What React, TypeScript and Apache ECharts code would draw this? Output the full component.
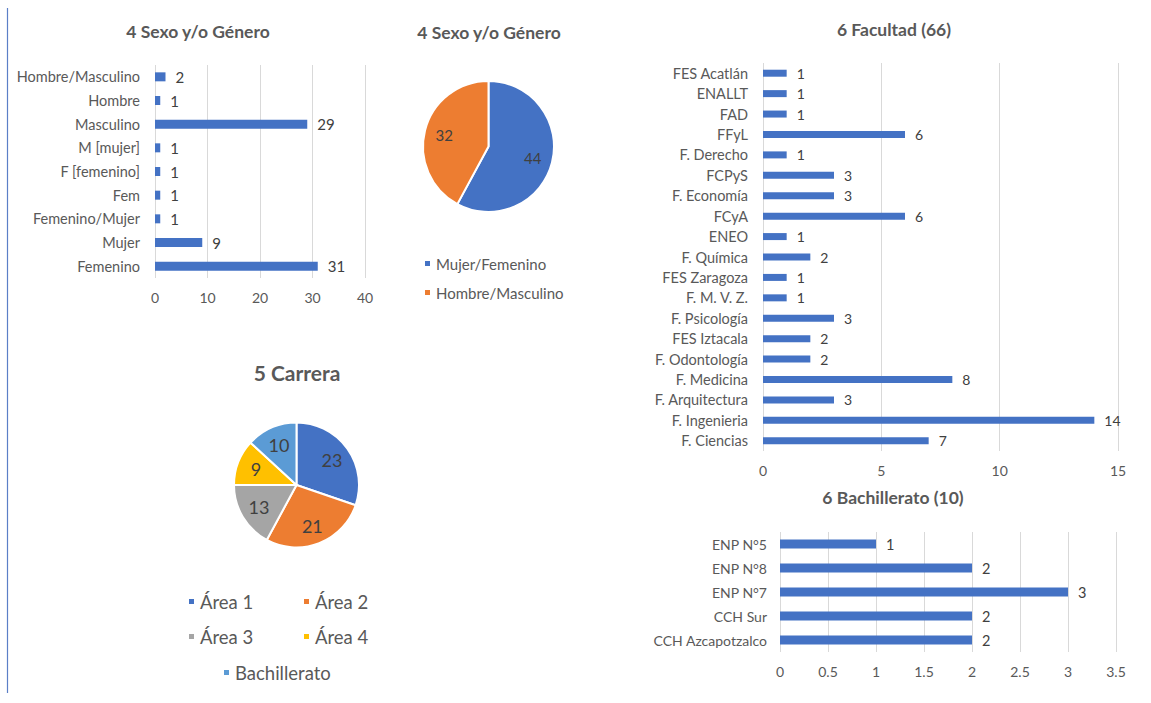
import React, { useEffect, useRef } from "react";
import * as echarts from "echarts";

const sexoCats = ["Hombre/Masculino", "Hombre", "Masculino", "M [mujer]", "F [femenino]", "Fem", "Femenino/Mujer", "Mujer", "Femenino"];
const sexoVals = [2, 1, 29, 1, 1, 1, 1, 9, 31];

const generoNames = ["Mujer/Femenino", "Hombre/Masculino"];
const generoVals = [44, 32];
const generoColors = ["#4472C4", "#ED7D31"];

const carreraNames = ["Área 1", "Área 2", "Área 3", "Área 4", "Bachillerato"];
const carreraVals = [23, 21, 13, 9, 10];
const carreraColors = ["#4472C4", "#ED7D31", "#A5A5A5", "#FFC000", "#5B9BD5"];

const facultadCats = ["FES Acatlán", "ENALLT", "FAD", "FFyL", "F. Derecho", "FCPyS", "F. Economía", "FCyA", "ENEO", "F. Química", "FES Zaragoza", "F. M. V. Z.", "F. Psicología", "FES Iztacala", "F. Odontología", "F. Medicina", "F. Arquitectura", "F. Ingenieria", "F. Ciencias"];
const facultadVals = [1, 1, 1, 6, 1, 3, 3, 6, 1, 2, 1, 1, 3, 2, 2, 8, 3, 14, 7];

const bachCats = ["ENP N°5", "ENP N°8", "ENP N°7", "CCH Sur", "CCH Azcapotzalco"];
const bachVals = [1, 2, 3, 2, 2];

const FONT = "Lato, 'Open Sans', sans-serif";
const TXT = "#595959";
const GRID = "#D9D9D9";
const BAR = "#4472C4";

export default function App() {
  const ref = useRef<HTMLDivElement>(null);
  useEffect(() => {
    const chart = echarts.init(ref.current!, null, { renderer: "svg" });

    const title = (text: string, x: number, y: number, size: number) => ({
      text,
      left: x,
      top: y,
      padding: 0,
      textAlign: "center",
      textVerticalAlign: "middle",
      textStyle: { color: TXT, fontFamily: FONT, fontWeight: "bold", fontSize: size },
    });

    const xAx = (gi: number, max: number, interval: number, size: number) => ({
      type: "value",
      gridIndex: gi,
      min: 0,
      max,
      interval,
      axisLine: { show: false },
      axisTick: { show: false },
      splitLine: { show: true, lineStyle: { color: GRID, width: 1 } },
      axisLabel: { color: TXT, fontFamily: FONT, fontSize: size, margin: 12 },
    });
    const yAx = (gi: number, cats: string[], size: number, margin: number) => ({
      type: "category",
      gridIndex: gi,
      data: cats,
      inverse: true,
      axisLine: { show: false },
      axisTick: { show: false },
      axisLabel: { color: TXT, fontFamily: FONT, fontSize: size, margin },
    });
    const bar = (gi: number, vals: number[], w: number, size: number) => ({
      type: "bar",
      xAxisIndex: gi,
      yAxisIndex: gi,
      data: vals,
      barWidth: w,
      itemStyle: { color: BAR },
      label: { show: true, position: "right", distance: 10, color: "#404040", fontFamily: FONT, fontSize: size },
      silent: true,
    });

    const legendItem = (name: string, x: number, y: number, size: number) => ({
      data: [name],
      left: x,
      top: y,
      padding: 0,
      orient: "horizontal",
      icon: "rect",
      itemWidth: 7,
      itemHeight: 7,
      itemGap: 5,
      selectedMode: false,
      textStyle: { color: TXT, fontFamily: FONT, fontSize: size },
    });

    const pieData = (names: string[], vals: number[], colors: string[]) =>
      names.map((n, i) => ({ name: n, value: vals[i], itemStyle: { color: colors[i] } }));

    const pieVisible = (names: string[], vals: number[], colors: string[], c: number[], r: number) => ({
      type: "pie",
      center: c,
      radius: [0, r],
      startAngle: 90,
      clockwise: true,
      data: pieData(names, vals, colors),
      itemStyle: { borderColor: "#fff", borderWidth: 2 },
      label: { show: false },
      labelLine: { show: false },
      silent: true,
    });
    const pieLabels = (names: string[], vals: number[], c: number[], r: number, size: number) => ({
      type: "pie",
      center: c,
      radius: [0, r * 1.3],
      startAngle: 90,
      clockwise: true,
      data: names.map((n, i) => ({ name: n, value: vals[i], itemStyle: { color: "rgba(0,0,0,0)" } })),
      label: { show: true, position: "inside", formatter: "{c}", color: "#404040", fontFamily: FONT, fontSize: size },
      labelLine: { show: false },
      silent: true,
      emphasis: { disabled: true },
    });

    chart.setOption({
      animation: false,
      backgroundColor: "#fff",
      title: [
        title("4 Sexo y/o Género", 198, 31, 17.5),
        title("4 Sexo y/o Género", 489, 32, 17.5),
        title("5 Carrera", 297, 372, 21),
        title("6 Facultad (66)", 894, 29, 17.5),
        title("6 Bachillerato (10)", 893, 497, 17.5),
      ],
      grid: [
        { left: 155, top: 65, width: 210, height: 213, outerBoundsMode: "none", containLabel: false },
        { left: 763, top: 63, width: 355, height: 388, outerBoundsMode: "none", containLabel: false },
        { left: 780, top: 532, width: 336, height: 120, outerBoundsMode: "none", containLabel: false },
      ],
      xAxis: [xAx(0, 40, 10, 14), xAx(1, 15, 5, 14), xAx(2, 3.5, 0.5, 14)],
      yAxis: [yAx(0, sexoCats, 14.5, 15), yAx(1, facultadCats, 14.5, 15), yAx(2, bachCats, 14, 13)],
      legend: [
        { ...legendItem(generoNames[0], 423, 256, 15) },
        { ...legendItem(generoNames[1], 423, 285, 15) },
        { ...legendItem(carreraNames[0], 187, 592, 18.5) },
        { ...legendItem(carreraNames[1], 302, 592, 18.5) },
        { ...legendItem(carreraNames[2], 187, 627, 18.5) },
        { ...legendItem(carreraNames[3], 302, 627, 18.5) },
        { ...legendItem(carreraNames[4], 222, 663, 18.5) },
      ],
      graphic: [
        { type: "line", shape: { x1: 7.5, y1: 8, x2: 7.5, y2: 693 }, style: { stroke: "#5B7FC7", lineWidth: 1.2 } },
      ],
      series: [
        bar(0, sexoVals, 9, 15),
        bar(1, facultadVals, 7, 14),
        bar(2, bachVals, 9, 14.5),
        pieVisible(generoNames, generoVals, generoColors, [488.5, 146.5], 65.5),
        pieVisible(carreraNames, carreraVals, carreraColors, [296.5, 485], 62.5),
        pieLabels(generoNames, generoVals, [488.5, 146.5], 65.5, 15),
        pieLabels(carreraNames, carreraVals, [296.5, 485], 62.5, 18),
      ],
    });
    return () => chart.dispose();
  }, []);
  return (
    <div
      ref={ref}
      style={{ position: "fixed", left: 0, top: 0, width: 1151, height: 703, background: "#fff" }}
    />
  );
}
